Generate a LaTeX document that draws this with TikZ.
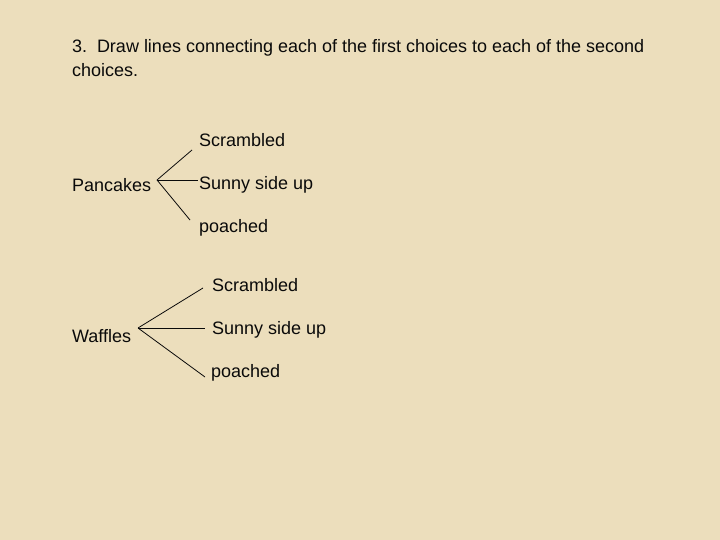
\documentclass[tikz,border=0pt]{standalone}
\usepackage{fontspec}
\setmainfont{Liberation Sans}
\definecolor{parch}{RGB}{236,222,188}
\definecolor{ink}{RGB}{10,10,10}
\begin{document}
\begin{tikzpicture}[x=1pt,y=-1pt,
  lbl/.style={anchor=base west,inner sep=0pt,outer sep=0pt,font=\fontsize{18}{22}\selectfont,text=ink},
  conn/.style={draw=ink,line width=0.8pt}]
\fill[parch] (0,0) rectangle (720,540);
\useasboundingbox (0,0) rectangle (720,540);
\node[lbl] (t1) at (72,53) {3.\ \ Draw lines connecting each of the first choices to each of the second};
\node[lbl] (t2) at (72,77) {choices.};
% Pancakes group
\node[lbl] (pan) at (72,192) {Pancakes};
\node[lbl] (ps) at (199,147) {Scrambled};
\node[lbl] (pu) at (199,190) {Sunny side up};
\node[lbl] (pp) at (199,233) {poached};
\coordinate (pa) at (157,180);
\coordinate (pe1) at (192,150);
\coordinate (pe2) at (198,180);
\coordinate (pe3) at (190,220);
\draw[conn] (pa) -- (pe1);
\draw[conn] (pa) -- (pe2);
\draw[conn] (pa) -- (pe3);
% Waffles group
\node[lbl] (waf) at (72,342) {Waffles};
\node[lbl] (ws) at (212,291) {Scrambled};
\node[lbl] (wu) at (212,334) {Sunny side up};
\node[lbl] (wp) at (211,377) {poached};
\coordinate (wa) at (138,328);
\coordinate (we1) at (203,288);
\coordinate (we2) at (205,328);
\coordinate (we3) at (205,377);
\draw[conn] (wa) -- (we1);
\draw[conn] (wa) -- (we2);
\draw[conn] (wa) -- (we3);
\end{tikzpicture}
\end{document}
